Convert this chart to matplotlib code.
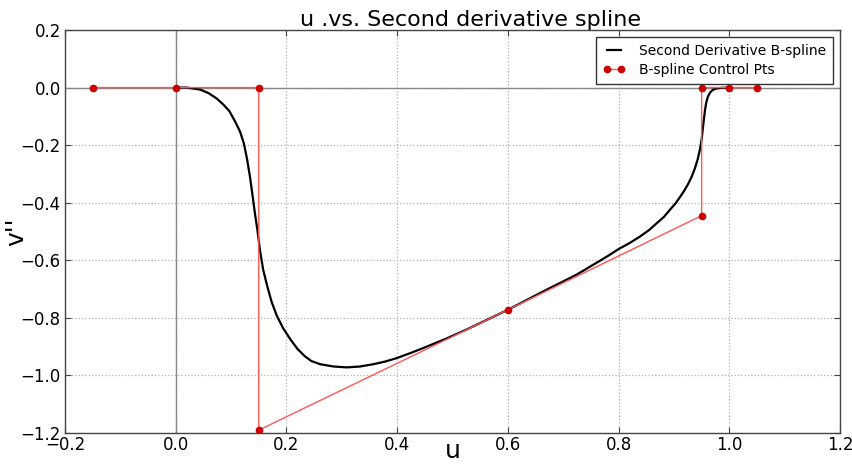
import matplotlib
matplotlib.use("Agg")
import matplotlib.pyplot as plt

# Second derivative of the B-spline, sampled along u
u_curve = [0.000, 0.020, 0.044, 0.059, 0.074, 0.086, 0.097, 0.107, 0.116, 0.123,
           0.129, 0.134, 0.139, 0.143, 0.1475, 0.152, 0.158, 0.1655, 0.173, 0.182,
           0.194, 0.208, 0.220, 0.233, 0.245, 0.261, 0.285, 0.309, 0.333, 0.357,
           0.378, 0.399, 0.423, 0.447, 0.490, 0.526, 0.562, 0.600, 0.632, 0.664,
           0.694, 0.724, 0.745, 0.766, 0.784, 0.800, 0.820, 0.839, 0.855, 0.869,
           0.882, 0.893, 0.903, 0.911, 0.918, 0.925, 0.932, 0.938, 0.943, 0.947,
           0.950, 0.952, 0.954, 0.956, 0.958, 0.961, 0.965, 0.970, 0.977, 0.986,
           1.000]
v2_curve = [0.000, 0.000, -0.007, -0.019, -0.038, -0.059, -0.082, -0.117, -0.152, -0.193,
            -0.250, -0.308, -0.378, -0.436, -0.494, -0.563, -0.633, -0.691, -0.743, -0.790,
            -0.836, -0.877, -0.908, -0.933, -0.950, -0.961, -0.969, -0.972, -0.969, -0.961,
            -0.952, -0.940, -0.923, -0.905, -0.871, -0.840, -0.807, -0.772, -0.740, -0.708,
            -0.679, -0.650, -0.626, -0.602, -0.581, -0.561, -0.540, -0.517, -0.495, -0.471,
            -0.449, -0.424, -0.402, -0.380, -0.360, -0.337, -0.310, -0.280, -0.248, -0.215,
            -0.180, -0.145, -0.111, -0.080, -0.055, -0.033, -0.018, -0.008, -0.003, -0.001,
            0.000]

# Control polygon
ctrl_u = [-0.15, 0.0, 0.15, 0.15, 0.60, 0.95, 0.95, 1.00, 1.05]
ctrl_v = [0.0, 0.0, 0.0, -1.19, -0.772, -0.445, 0.0, 0.0, 0.0]

x_ticks = [-0.2, 0.0, 0.2, 0.4, 0.6, 0.8, 1.0, 1.2]
y_ticks = [0.2, 0.0, -0.2, -0.4, -0.6, -0.8, -1.0, -1.2]

plt.rcParams["font.family"] = ["DejaVu Sans"]

fig = plt.figure(figsize=(8.53, 4.65), dpi=100, facecolor="white")
ax = fig.add_axes([0.0762, 0.0688, 0.9086, 0.8667])

ax.axhline(0.0, color="#888888", lw=1.0, zorder=1)
ax.axvline(0.0, color="#888888", lw=1.0, zorder=1)

ax.plot(u_curve, v2_curve, color="black", lw=1.6, zorder=3,
        label="Second Derivative B-spline")
ax.plot(ctrl_u, ctrl_v, color="#ff5555", lw=1.0, marker="o", ms=4.5,
        mfc="#cc0000", mec="#cc0000", zorder=4, label="B-spline Control Pts")

ax.set_xlim(-0.2, 1.2)
ax.set_ylim(-1.2, 0.2)
ax.set_xticks(x_ticks)
ax.set_yticks(y_ticks)
ax.set_xticklabels([f"{t:.1f}".replace("-", "\u2212") for t in x_ticks])
ax.set_yticklabels([f"{t:.1f}".replace("-", "\u2212") for t in y_ticks])

ax.grid(True, color="#b0b0b0", linestyle=":", lw=0.9)
ax.set_axisbelow(True)
ax.tick_params(direction="in", length=4, labelsize=12, top=True, right=True,
               color="#444444")
ax.tick_params(axis="x", pad=2)
ax.tick_params(axis="y", pad=3)
for s in ax.spines.values():
    s.set_color("#444444")
    s.set_linewidth(1.0)

ax.set_title("u .vs. Second derivative spline", fontsize=16, x=0.523, pad=3)
ax.set_xlabel("u", fontsize=18, va="baseline")
ax.set_ylabel("v''", fontsize=18)
ax.xaxis.set_label_coords(0.5, -0.062)
ax.yaxis.set_label_coords(-0.047, 0.5)

leg = ax.legend(loc="upper right", fontsize=10, numpoints=2, fancybox=False,
                framealpha=1.0, borderaxespad=0.5, handlelength=1.6,
                handletextpad=1.0, borderpad=0.5, labelspacing=0.35)
leg.get_frame().set_edgecolor("#333333")
leg.get_frame().set_linewidth(1.0)

fig.savefig("out.png", dpi=100, facecolor="white")
